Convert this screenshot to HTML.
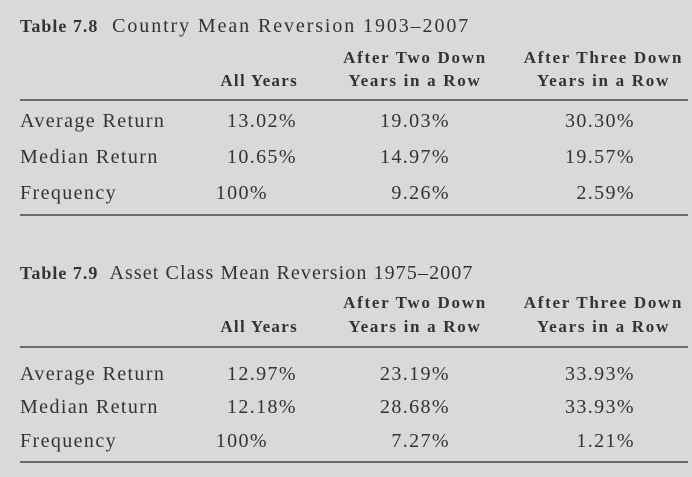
<!DOCTYPE html>
<html><head><style>
body{margin:0;width:692px;height:477px;background:#d9d9d9;overflow:hidden;font-family:"Liberation Serif",serif;color:#333;}
.t{position:absolute;white-space:nowrap;font-size:20px;line-height:20px;letter-spacing:1.4px}
.b{font-weight:bold;font-size:17px;letter-spacing:1.7px}
.r{text-align:right}
.c{text-align:center}
.l{position:absolute;left:20px;width:668px;height:2px;background:#6a6a6a}
</style></head><body>
<div class="t" style="left:20px;top:16px;letter-spacing:1.9px"><b style="font-size:18px;letter-spacing:1px">Table 7.8</b>&nbsp; Country Mean Reversion 1903–2007</div>
<div class="t b c" style="left:320px;width:190px;top:48px">After Two Down</div>
<div class="t b c" style="left:320px;width:190px;top:71px">Years in a Row</div>
<div class="t b c" style="left:505px;width:197px;top:48px">After Three Down</div>
<div class="t b c" style="left:505px;width:197px;top:71px">Years in a Row</div>
<div class="t b r" style="left:180px;width:118px;top:71px;letter-spacing:1.3px">All Years</div>
<div class="l" style="top:99px"></div>
<div class="t" style="left:20px;top:111px">Average Return</div>
<div class="t" style="left:20px;top:147px">Median Return</div>
<div class="t" style="left:20px;top:183px">Frequency</div>
<div class="t r" style="left:180px;width:117px;top:111px">13.02%</div>
<div class="t r" style="left:180px;width:117px;top:147px">10.65%</div>
<div class="t r" style="left:180px;width:88px;top:183px">100%</div>
<div class="t r" style="left:330px;width:120px;top:111px">19.03%</div>
<div class="t r" style="left:330px;width:120px;top:147px">14.97%</div>
<div class="t r" style="left:330px;width:120px;top:183px">9.26%</div>
<div class="t r" style="left:515px;width:120px;top:111px">30.30%</div>
<div class="t r" style="left:515px;width:120px;top:147px">19.57%</div>
<div class="t r" style="left:515px;width:120px;top:183px">2.59%</div>
<div class="l" style="top:214px"></div>

<div class="t" style="left:20px;top:263px;letter-spacing:1.1px"><b style="font-size:18px;letter-spacing:1px">Table 7.9</b>&nbsp; Asset Class Mean Reversion 1975–2007</div>
<div class="t b c" style="left:320px;width:190px;top:293px">After Two Down</div>
<div class="t b c" style="left:320px;width:190px;top:317px">Years in a Row</div>
<div class="t b c" style="left:505px;width:197px;top:293px">After Three Down</div>
<div class="t b c" style="left:505px;width:197px;top:317px">Years in a Row</div>
<div class="t b r" style="left:180px;width:118px;top:317px;letter-spacing:1.3px">All Years</div>
<div class="l" style="top:346px"></div>
<div class="t" style="left:20px;top:364px">Average Return</div>
<div class="t" style="left:20px;top:397px">Median Return</div>
<div class="t" style="left:20px;top:431px">Frequency</div>
<div class="t r" style="left:180px;width:117px;top:364px">12.97%</div>
<div class="t r" style="left:180px;width:117px;top:397px">12.18%</div>
<div class="t r" style="left:180px;width:88px;top:431px">100%</div>
<div class="t r" style="left:330px;width:120px;top:364px">23.19%</div>
<div class="t r" style="left:330px;width:120px;top:397px">28.68%</div>
<div class="t r" style="left:330px;width:120px;top:431px">7.27%</div>
<div class="t r" style="left:515px;width:120px;top:364px">33.93%</div>
<div class="t r" style="left:515px;width:120px;top:397px">33.93%</div>
<div class="t r" style="left:515px;width:120px;top:431px">1.21%</div>
<div class="l" style="top:461px"></div>
</body></html>
